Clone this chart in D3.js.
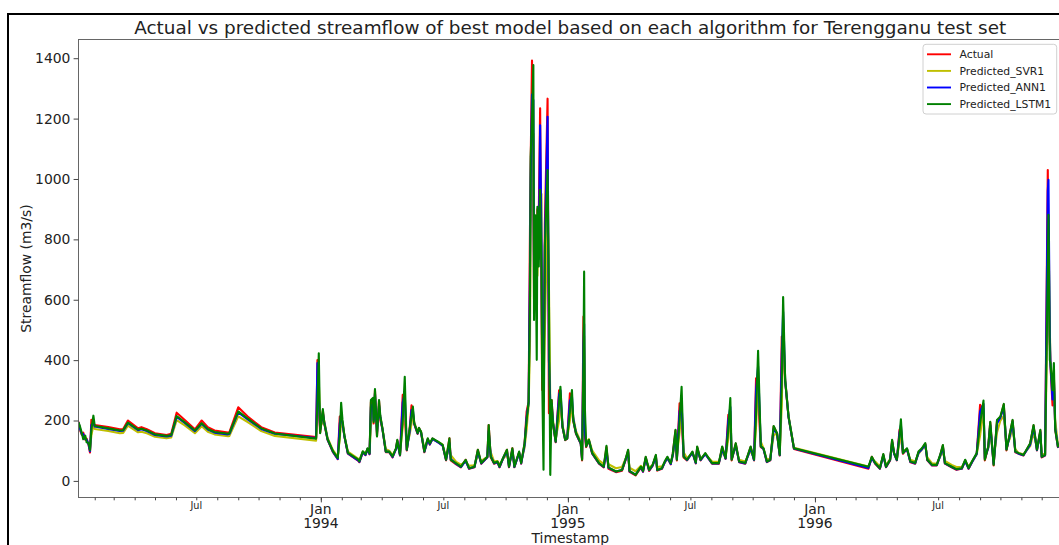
<!DOCTYPE html>
<html>
<head>
<meta charset="utf-8">
<script src="https://cdn.jsdelivr.net/npm/d3@7"></script>
<style>
  body { margin: 0; background: #fff; }
  svg { display: block; font-family: "DejaVu Sans", sans-serif; }
</style>
</head>
<body>
<div class="container"></div>
<script>
// Daily streamflow key points (m3/s)
const dates = [
  "1993-01-08","1993-01-10","1993-01-13","1993-01-15","1993-01-18","1993-01-20","1993-01-23","1993-01-25","1993-01-27","1993-01-30",
  "1993-02-01","1993-02-21","1993-03-10","1993-03-15","1993-03-22","1993-04-06","1993-04-11","1993-04-19","1993-05-01","1993-05-18",
  "1993-05-25","1993-06-02","1993-06-14","1993-06-29","1993-07-09","1993-07-18","1993-07-28","1993-08-17","1993-08-19","1993-09-01",
  "1993-09-15","1993-10-05","1993-10-25","1993-12-25","1993-12-27","1993-12-29","1993-12-31",
  "1994-01-04","1994-01-06","1994-01-11","1994-01-19","1994-01-26","1994-01-29","1994-01-31","1994-02-02","1994-02-05","1994-02-10",
  "1994-02-25","1994-02-27","1994-03-04","1994-03-08","1994-03-11","1994-03-14","1994-03-16","1994-03-19","1994-03-20","1994-03-22",
  "1994-03-25","1994-03-28","1994-03-30","1994-04-02","1994-04-07","1994-04-12","1994-04-17","1994-04-22","1994-04-24","1994-04-28",
  "1994-05-02","1994-05-05","1994-05-08","1994-05-12","1994-05-15","1994-05-17","1994-05-19","1994-05-24","1994-05-26","1994-05-29",
  "1994-06-03","1994-06-05","1994-06-08","1994-06-11","1994-06-15","1994-06-23","1994-06-30","1994-07-05","1994-07-10","1994-07-12",
  "1994-07-20","1994-07-27","1994-08-03","1994-08-08","1994-08-16","1994-08-21","1994-08-26","1994-09-04","1994-09-06","1994-09-09",
  "1994-09-14","1994-09-19","1994-09-22","1994-09-27","1994-10-03","1994-10-06","1994-10-11","1994-10-14","1994-10-21","1994-10-24",
  "1994-10-29","1994-11-01","1994-11-04","1994-11-06","1994-11-07","1994-11-09","1994-11-11","1994-11-12","1994-11-14","1994-11-16",
  "1994-11-17","1994-11-19","1994-11-21","1994-11-23","1994-11-24","1994-11-26","1994-11-28","1994-12-02","1994-12-04","1994-12-06",
  "1994-12-08","1994-12-10","1994-12-14","1994-12-19","1994-12-21","1994-12-24","1994-12-28","1994-12-31",
  "1995-01-04","1995-01-07","1995-01-09","1995-01-13","1995-01-20","1995-01-22","1995-01-24","1995-01-25","1995-01-26","1995-01-28",
  "1995-02-01","1995-02-06","1995-02-16","1995-02-23","1995-02-27","1995-03-02","1995-03-13","1995-03-22","1995-03-27","1995-03-31",
  "1995-04-02","1995-04-11","1995-04-19","1995-04-22","1995-04-26","1995-05-01","1995-05-06","1995-05-11","1995-05-13","1995-05-20",
  "1995-05-24","1995-05-28","1995-06-02","1995-06-05","1995-06-09","1995-06-11","1995-06-15","1995-06-18","1995-06-21","1995-06-26",
  "1995-07-04","1995-07-09","1995-07-11","1995-07-16","1995-07-23","1995-08-02","1995-08-12","1995-08-17","1995-08-22","1995-08-26",
  "1995-08-29","1995-08-31","1995-09-06","1995-09-11","1995-09-20","1995-09-28","1995-10-03","1995-10-06","1995-10-09","1995-10-13",
  "1995-10-17","1995-10-22","1995-10-27","1995-11-01","1995-11-06","1995-11-10","1995-11-13","1995-11-15","1995-11-18","1995-11-23",
  "1995-12-01",
  "1996-03-20","1996-03-25","1996-03-30","1996-04-06","1996-04-11","1996-04-15","1996-04-21","1996-04-24","1996-04-27","1996-05-01",
  "1996-05-05","1996-05-07","1996-05-10","1996-05-16","1996-05-21","1996-05-28","1996-06-02","1996-06-07","1996-06-12","1996-06-15",
  "1996-06-22","1996-06-29","1996-07-04","1996-07-08","1996-07-11","1996-07-21","1996-07-28","1996-08-05","1996-08-10","1996-08-15",
  "1996-08-20","1996-08-27","1996-09-01","1996-09-06","1996-09-08","1996-09-13","1996-09-16","1996-09-21","1996-09-26","1996-10-01",
  "1996-10-06","1996-10-10","1996-10-15","1996-10-19","1996-10-23","1996-10-28","1996-11-04","1996-11-14","1996-11-19","1996-11-24",
  "1996-11-29","1996-12-01","1996-12-06","1996-12-10","1996-12-11","1996-12-13","1996-12-14","1996-12-17","1996-12-19","1996-12-21",
  "1996-12-25","1996-12-31"
];

const actual = [
  196,170,152,160,136,140,118,94,202,190,
  185,178,171,172,200,174,178,171,158,152,
  156,226,202,171,200,178,167,160,162,244,
  213,178,160,145,400,240,160,
  232,191,136,95,72,213,180,195,145,90,
  67,62,95,85,106,88,262,250,190,300,
  148,265,200,172,95,95,78,106,134,84,
  285,220,101,167,250,220,188,156,175,161,
  95,115,139,120,140,128,117,68,141,68,
  55,45,70,40,45,103,57,78,185,78,
  57,62,45,73,103,45,108,45,95,57,
  123,229,262,831,1050,1392,950,600,820,600,
  900,880,1234,600,301,320,850,1266,224,265,
  268,190,128,300,270,178,135,140,
  290,240,198,156,123,68,544,420,150,112,
  134,90,57,45,112,40,29,34,68,101,
  30,18,45,30,78,33,50,84,34,40,
  62,78,55,90,167,68,257,210,78,68,
  95,58,112,68,90,57,57,112,73,219,
  200,68,123,62,57,112,68,340,280,112,
  106,62,68,180,156,84,478,450,330,211,
  106,
  40,80,57,40,87,45,68,134,90,68,
  170,150,90,106,62,57,95,106,123,68,
  51,51,84,117,57,45,37,40,68,40,
  62,90,252,230,68,112,194,51,200,211,
  253,101,156,200,95,90,84,123,183,101,
  167,78,84,1030,700,450,380,250,350,170,
  112,130
];

const svr = [
  188,172,155,150,142,135,125,108,150,185,
  172,165,158,159,183,161,163,158,146,141,
  144,201,184,158,181,163,154,148,149,214,
  195,165,149,133,220,330,200,
  190,200,142,102,80,140,200,185,150,97,
  74,70,97,92,104,95,180,240,215,250,
  190,210,215,175,105,100,86,105,125,92,
  180,250,115,150,190,225,195,162,165,165,
  105,110,132,125,137,130,120,78,105,85,
  63,54,62,50,52,85,66,80,120,95,
  64,66,54,72,88,58,90,56,88,64,
  110,170,250,450,850,1050,1150,750,650,700,
  680,820,900,950,500,300,500,900,650,250,
  240,200,140,200,275,185,145,142,
  200,255,210,165,130,85,300,480,200,130,
  138,100,68,56,85,55,42,46,72,88,
  44,32,50,40,65,45,52,70,46,48,
  60,72,60,82,130,85,160,240,95,75,
  92,66,100,74,88,64,63,95,80,140,
  230,85,110,70,64,100,76,180,330,130,
  108,70,74,150,160,92,250,500,340,215,
  110,
  48,72,64,48,80,52,72,115,92,74,
  130,175,100,105,70,64,90,104,115,78,
  58,57,80,100,66,53,46,47,64,48,
  64,88,150,240,90,108,160,70,160,200,
  215,120,140,180,105,92,88,115,160,108,
  150,90,88,600,880,500,400,300,320,200,
  120,135
];

const ann = [
  193,175,154,155,138,137,120,98,185,192,
  180,172,165,166,191,168,171,165,152,147,
  150,212,192,165,189,170,160,154,156,227,
  204,172,156,142,390,280,170,
  225,195,137,96,73,190,220,190,146,91,
  68,63,95,86,105,89,245,255,200,290,
  160,250,210,172,97,96,79,105,130,85,
  260,290,103,160,235,235,190,157,172,162,
  97,112,137,121,139,128,117,70,125,72,
  56,46,66,41,46,97,58,78,165,82,
  58,62,46,73,98,47,102,46,93,58,
  118,210,258,700,1000,1280,1260,650,750,650,
  800,735,1178,800,400,310,776,1206,400,258,
  255,193,130,285,300,180,137,140,
  265,280,205,158,124,72,450,520,170,115,
  135,91,58,46,100,43,31,36,69,96,
  32,21,46,31,74,35,50,80,36,41,
  61,76,56,86,155,72,230,260,82,69,
  94,59,108,69,89,58,58,106,74,200,
  245,72,118,63,58,108,69,300,380,115,
  106,63,69,172,157,85,420,560,333,212,
  107,
  43,76,58,41,84,46,69,128,90,69,
  160,185,92,105,63,58,93,105,120,70,
  52,52,83,112,58,46,38,41,66,41,
  62,89,230,255,74,110,185,56,190,210,
  245,105,150,195,97,90,85,120,178,102,
  162,80,85,960,997,480,385,270,340,175,
  113,131
];

const lstm = [
  194,182,158,138,150,128,125,102,170,216,
  182,174,167,168,193,170,173,167,154,149,
  152,215,194,167,191,172,162,156,158,230,
  206,174,157,140,260,423,158,
  238,193,138,98,76,150,259,202,147,93,
  71,65,98,88,108,91,268,275,195,304,
  147,268,212,174,97,97,81,108,136,86,
  200,345,103,169,215,246,191,158,176,163,
  97,118,141,124,141,130,119,70,141,70,
  58,47,70,42,47,103,59,80,185,80,
  59,64,47,75,103,47,108,47,97,59,
  125,200,263,600,1074,1200,1377,533,880,401,
  908,710,964,700,350,37,776,1030,600,20,
  268,191,130,260,312,180,136,141,
  230,301,200,158,125,70,400,693,250,114,
  136,92,59,47,116,45,31,36,70,103,
  33,20,47,33,80,36,52,86,36,42,
  64,80,58,90,169,70,200,312,80,70,
  97,60,114,70,92,59,59,114,75,170,
  274,70,125,64,59,114,70,220,431,114,
  108,64,70,182,158,86,330,609,334,213,
  108,
  47,80,59,42,89,47,70,136,92,70,
  150,204,92,108,64,59,97,108,125,70,
  53,53,86,119,59,47,39,42,70,42,
  64,92,190,266,70,114,196,53,202,213,
  255,103,158,202,97,92,86,125,185,103,
  169,80,86,700,881,400,390,300,390,169,
  114,132
];

const seriesNames = ["Actual", "Predicted_SVR1", "Predicted_ANN1", "Predicted_LSTM1"];
const seriesColors = ["#ff0000", "#bfbf00", "#0000ff", "#008000"];
const yTicks = [0, 200, 400, 600, 800, 1000, 1200, 1400];
const monthLabels = ["Jul"];

// Chart dimensions
const width = 1059;
const height = 545;
const marginLeft = 78.5;
const marginTop = 39.5;
const plotRight = 1062;
const plotBottom = 497.5;

const parse = d3.utcParse("%Y-%m-%d");
const time = dates.map(parse);

const x = d3.scaleUtc()
  .domain(d3.extent(time))
  .range([marginLeft, plotRight]);

const y = d3.scaleLinear()
  .domain([-55, 1462])
  .range([plotBottom, marginTop]);

const svg = d3.select(".container")
  .append("svg")
  .attr("width", width)
  .attr("height", height);

svg.append("rect").attr("width", width).attr("height", height).attr("fill", "#fff");

// outer figure frame (cut off at the right and bottom)
svg.append("rect")
  .attr("x", 8).attr("y", 14)
  .attr("width", 1200).attr("height", 700)
  .attr("fill", "none")
  .attr("stroke", "#000")
  .attr("stroke-width", 2);

svg.append("clipPath").attr("id", "plot-clip")
  .append("rect")
  .attr("x", marginLeft).attr("y", marginTop)
  .attr("width", plotRight - marginLeft).attr("height", plotBottom - marginTop);

// Lines
const line = d3.line()
  .x((d, i) => x(time[i]))
  .y(d => y(d));

const allSeries = [actual, svr, ann, lstm];
svg.append("g")
  .attr("clip-path", "url(#plot-clip)")
  .selectAll("path")
  .data(allSeries)
  .join("path")
  .attr("d", d => line(d))
  .attr("fill", "none")
  .attr("stroke", (d, i) => seriesColors[i])
  .attr("stroke-width", 2.1)
  .attr("stroke-linejoin", "round");

// Spines
svg.append("rect")
  .attr("x", marginLeft).attr("y", marginTop)
  .attr("width", plotRight - marginLeft).attr("height", plotBottom - marginTop)
  .attr("fill", "none")
  .attr("stroke", "#666")
  .attr("stroke-width", 1);

// Y axis
const yAxis = svg.append("g")
  .attr("transform", `translate(${marginLeft},0)`)
  .call(d3.axisLeft(y).tickValues(yTicks).tickFormat(d3.format("d")).tickSize(4.9).tickPadding(3.2));
yAxis.select(".domain").remove();
yAxis.selectAll(".tick line").attr("stroke", "#444");
yAxis.selectAll(".tick text")
  .attr("font-family", "DejaVu Sans")
  .attr("font-size", 13.9)
  .attr("fill", "#222");

// X axis: monthly minor ticks
const xMinor = svg.append("g")
  .attr("transform", `translate(0,${plotBottom})`)
  .call(d3.axisBottom(x).ticks(d3.utcMonth.every(1)).tickSize(2.8).tickFormat(""));
xMinor.select(".domain").remove();
xMinor.selectAll(".tick line").attr("stroke", "#444");

// X axis: yearly major ticks
const xMajor = svg.append("g")
  .attr("transform", `translate(0,${plotBottom})`)
  .call(d3.axisBottom(x).ticks(d3.utcYear.every(1)).tickSize(4.9).tickFormat(""));
xMajor.select(".domain").remove();
xMajor.selectAll(".tick line").attr("stroke", "#444");

const years = x.ticks(d3.utcYear.every(1));
const yearLabels = svg.append("g")
  .attr("font-family", "DejaVu Sans")
  .attr("font-size", 13.9)
  .attr("fill", "#222")
  .attr("text-anchor", "middle");
years.forEach(d => {
  yearLabels.append("text").attr("x", x(d)).attr("y", 514).text("Jan");
  yearLabels.append("text").attr("x", x(d)).attr("y", 528).text(d3.utcFormat("%Y")(d));
});

const julys = x.ticks(d3.utcMonth.every(1)).filter(d => d.getUTCMonth() === 6);
svg.append("g")
  .attr("font-family", "DejaVu Sans")
  .attr("font-size", 9.7)
  .attr("fill", "#222")
  .attr("text-anchor", "middle")
  .selectAll("text")
  .data(julys)
  .join("text")
  .attr("x", d => x(d))
  .attr("y", 509)
  .text(monthLabels[0]);

// Axis labels and title
svg.append("text")
  .attr("x", (marginLeft + plotRight) / 2)
  .attr("y", 543)
  .attr("text-anchor", "middle")
  .attr("font-size", 13.9)
  .attr("fill", "#222")
  .text("Timestamp");

svg.append("text")
  .attr("transform", `translate(30.5,${(marginTop + plotBottom) / 2}) rotate(-90)`)
  .attr("text-anchor", "middle")
  .attr("font-size", 13.9)
  .attr("fill", "#222")
  .text("Streamflow (m3/s)");

svg.append("text")
  .attr("x", (marginLeft + plotRight) / 2)
  .attr("y", 34.3)
  .attr("text-anchor", "middle")
  .attr("font-size", 18.4)
  .attr("fill", "#222")
  .text("Actual vs predicted streamflow of best model based on each algorithm for Terengganu test set");

// Legend
const legend = svg.append("g").attr("transform", "translate(923,44.3)");
legend.append("rect")
  .attr("width", 133.7).attr("height", 69.7)
  .attr("rx", 3)
  .attr("fill", "#fff")
  .attr("fill-opacity", 0.8)
  .attr("stroke", "#d0d0d0");
seriesNames.forEach((name, i) => {
  const ly = 10 + i * 16.6;
  legend.append("line")
    .attr("x1", 4).attr("x2", 28)
    .attr("y1", ly).attr("y2", ly)
    .attr("stroke", seriesColors[i])
    .attr("stroke-width", 1.9);
  legend.append("text")
    .attr("x", 36.5).attr("y", ly + 3.9)
    .attr("font-size", 10.8)
    .attr("fill", "#222")
    .text(name);
});
</script>
</body>
</html>
